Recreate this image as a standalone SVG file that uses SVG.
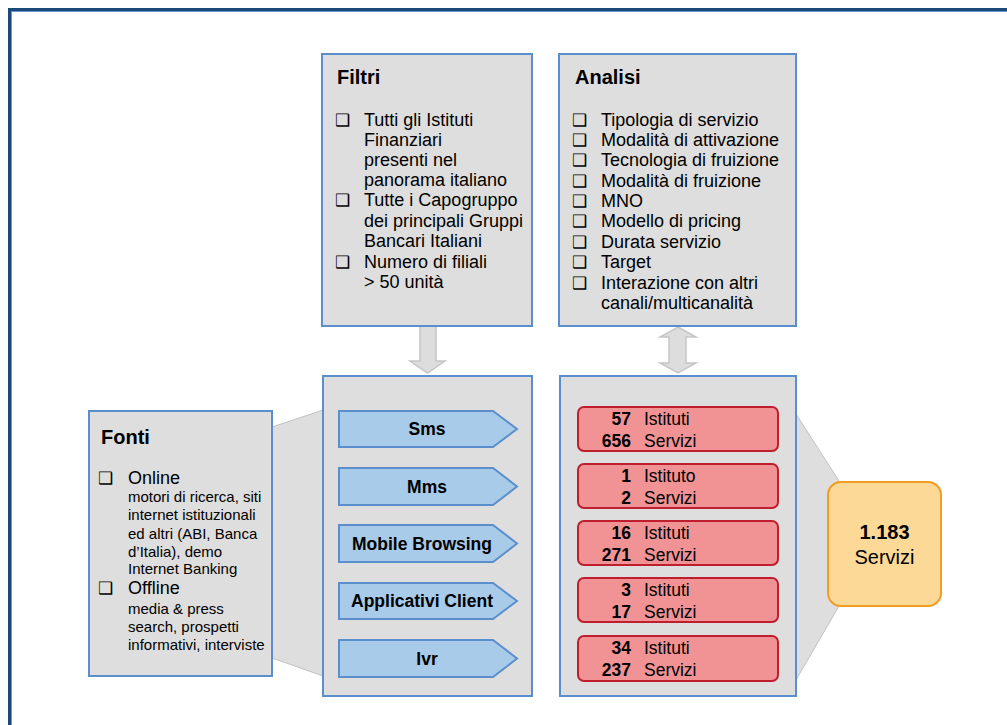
<svg xmlns="http://www.w3.org/2000/svg" width="1007" height="725" viewBox="0 0 1007 725">
<style>
text{font-family:"Liberation Sans",Arial,sans-serif;fill:#000}
.box{fill:#DEDEDE;stroke:#5B8FCB;stroke-width:2}
.funnel{fill:#DEDEDE;stroke:#C2C2C2;stroke-width:1}
.arr{fill:#DDDDDD;stroke:#C6C6C6;stroke-width:1.5}
.chan{fill:#A8CBEA;stroke:#5B8FCB;stroke-width:2}
.cnt{fill:#F19394;stroke:#BE1E2D;stroke-width:2}
.title{font-size:20px;font-weight:bold}
.item{font-size:18px}
.sub{font-size:15px}
.bul{font-family:"DejaVu Sans",sans-serif;font-size:17px}
.cl{font-size:17.5px;font-weight:bold;text-anchor:middle}
.num{font-size:17.5px;font-weight:bold;text-anchor:end}
.lab{font-size:17.5px}
</style>
<rect x="9.5" y="9.5" width="1100" height="800" fill="none" stroke="#1A4A7A" stroke-width="3"/>
<rect x="11.5" y="11.5" width="1100" height="800" fill="none" stroke="#6A95C4" stroke-width="1"/>
<g id="connectors">
<polygon class="funnel" points="272,427 323,410 323,676 272,658"/>
<polygon class="funnel" points="796,414 839,481 839,606 796,680"/>
<polygon class="arr" points="420,326 436,326 436,361 445,361 427.5,373 410,361 420,361"/>
<polygon class="arr" points="678,327 696,337 686,337 686,363 696,363 678,373 660,363 669,363 669,337 660,337"/>
</g>
<g id="filtri">
<rect class="box" x="322" y="54" width="210" height="272"/>
<text class="title" x="337" y="84">Filtri</text>
<g class="bul"><text x="335" y="126">❑</text><text x="335" y="206">❑</text><text x="335" y="268">❑</text></g>
<g class="item">
<text x="364" y="126">Tutti gli Istituti</text>
<text x="364" y="146">Finanziari</text>
<text x="364" y="166">presenti nel</text>
<text x="364" y="186">panorama italiano</text>
<text x="364" y="206">Tutte i Capogruppo</text>
<text x="364" y="227">dei principali Gruppi</text>
<text x="364" y="247">Bancari Italiani</text>
<text x="364" y="268">Numero di filiali</text>
<text x="364" y="288">&gt; 50 unità</text>
</g>
</g>
<g id="analisi">
<rect class="box" x="559" y="54" width="237" height="272"/>
<text class="title" x="575" y="84">Analisi</text>
<g class="bul"><text x="572" y="126">❑</text><text x="572" y="146">❑</text><text x="572" y="166">❑</text><text x="572" y="187">❑</text><text x="572" y="207">❑</text><text x="572" y="227">❑</text><text x="572" y="248">❑</text><text x="572" y="268">❑</text><text x="572" y="289">❑</text></g>
<g class="item">
<text x="601" y="126">Tipologia di servizio</text>
<text x="601" y="146">Modalità di attivazione</text>
<text x="601" y="166">Tecnologia di fruizione</text>
<text x="601" y="187">Modalità di fruizione</text>
<text x="601" y="207">MNO</text>
<text x="601" y="227">Modello di pricing</text>
<text x="601" y="248">Durata servizio</text>
<text x="601" y="268">Target</text>
<text x="601" y="289">Interazione con altri</text>
<text x="601" y="309">canali/multicanalità</text>
</g>
</g>
<g id="fonti">
<rect class="box" x="89" y="411" width="183" height="265"/>
<text class="title" x="101" y="444">Fonti</text>
<g class="bul"><text x="98" y="484">❑</text><text x="98" y="594">❑</text></g>
<text class="item" x="128" y="484">Online</text>
<g class="sub">
<text x="128" y="502">motori di ricerca, siti</text>
<text x="128" y="520">internet istituzionali</text>
<text x="128" y="539">ed altri (ABI, Banca</text>
<text x="128" y="557">d’Italia), demo</text>
<text x="128" y="574">Internet Banking</text>
</g>
<text class="item" x="128" y="594">Offline</text>
<g class="sub">
<text x="128" y="614">media &amp; press</text>
<text x="128" y="632">search, prospetti</text>
<text x="128" y="650">informativi, interviste</text>
</g>
</g>
<g id="canali">
<rect class="box" x="323" y="376" width="209" height="320"/>
<polygon class="chan" points="339,411 493,411 517,429 493,447 339,447"/>
<text class="cl" x="427" y="435">Sms</text>
<polygon class="chan" points="339,468 493,468 517,486.5 493,505 339,505"/>
<text class="cl" x="427" y="492.5">Mms</text>
<polygon class="chan" points="339,525 493,525 517,543.5 493,562 339,562"/>
<text class="cl" x="422" y="549.5">Mobile Browsing</text>
<polygon class="chan" points="339,583 493,583 517,601 493,619 339,619"/>
<text class="cl" x="422" y="607">Applicativi Client</text>
<polygon class="chan" points="339,640 493,640 517,658.5 493,677 339,677"/>
<text class="cl" x="427" y="664.5">Ivr</text>
</g>
<g id="conteggi">
<rect class="box" x="560" y="376" width="236" height="320"/>
<rect class="cnt" x="578" y="407" width="200" height="44" rx="6"/>
<text class="num" x="631" y="425">57</text><text class="lab" x="644" y="425">Istituti</text>
<text class="num" x="631" y="447">656</text><text class="lab" x="644" y="447">Servizi</text>
<rect class="cnt" x="578" y="464" width="200" height="44" rx="6"/>
<text class="num" x="631" y="482">1</text><text class="lab" x="644" y="482">Istituto</text>
<text class="num" x="631" y="504">2</text><text class="lab" x="644" y="504">Servizi</text>
<rect class="cnt" x="578" y="521" width="200" height="44" rx="6"/>
<text class="num" x="631" y="539">16</text><text class="lab" x="644" y="539">Istituti</text>
<text class="num" x="631" y="561">271</text><text class="lab" x="644" y="561">Servizi</text>
<rect class="cnt" x="578" y="578" width="200" height="44" rx="6"/>
<text class="num" x="631" y="596">3</text><text class="lab" x="644" y="596">Istituti</text>
<text class="num" x="631" y="618">17</text><text class="lab" x="644" y="618">Servizi</text>
<rect class="cnt" x="578" y="636" width="200" height="45" rx="6"/>
<text class="num" x="631" y="654">34</text><text class="lab" x="644" y="654">Istituti</text>
<text class="num" x="631" y="676">237</text><text class="lab" x="644" y="676">Servizi</text>
</g>
<g id="totale">
<rect x="828" y="482" width="113" height="124" rx="13" fill="#FCD997" stroke="#F39C21" stroke-width="2"/>
<text x="884.5" y="539" font-size="20" font-weight="bold" text-anchor="middle">1.183</text>
<text x="884.5" y="564" font-size="20" text-anchor="middle">Servizi</text>
</g>
</svg>
